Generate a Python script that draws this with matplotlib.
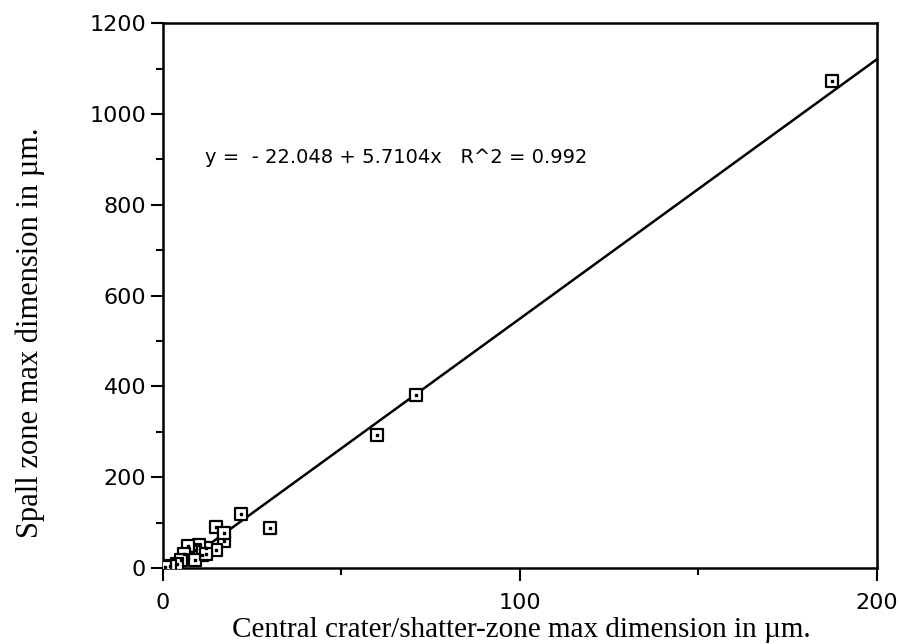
import matplotlib
matplotlib.use("Agg")
import matplotlib.pyplot as plt
import numpy as np
from matplotlib.ticker import MultipleLocator

# crater size (x) vs spall zone size (y), um
crater = [187.5, 71, 60, 30, 22, 15, 17, 17, 15, 12, 11, 10, 9, 8, 7, 7, 6, 5, 4, 2, 0.5, 9, 12]
spall = [1072, 380, 292, 88, 120, 90, 60, 78, 40, 45, 28, 50, 40, 35, 48, 22, 30, 18, 8, 5, 2, 18, 30]

intercept = -22.048
slope = 5.7104
r2 = 0.992

fig = plt.figure(figsize=(9, 6.44), dpi=100)
ax = fig.add_axes([0.181, 0.118, 0.793, 0.846])

xs = np.array([0, 200])
ax.plot(xs, intercept + slope * xs, color="black", lw=1.8, zorder=2)
ax.scatter(crater, spall, marker="s", s=64, facecolor="white", edgecolor="black",
           linewidth=1.6, zorder=3)
ax.scatter(crater, spall, marker="s", s=3, color="black", zorder=4)

ax.set_xlim(0, 200)
ax.set_ylim(0, 1200)
ax.xaxis.set_major_locator(MultipleLocator(100))
ax.xaxis.set_minor_locator(MultipleLocator(50))
ax.yaxis.set_major_locator(MultipleLocator(200))
ax.yaxis.set_minor_locator(MultipleLocator(100))
ax.tick_params(which="major", direction="out", length=9, width=1.5, labelsize=16)
ax.tick_params(which="minor", direction="out", length=5, width=1.5)
ax.tick_params(axis="y", pad=3)
ax.tick_params(axis="x", pad=9)
for s in ax.spines.values():
    s.set_linewidth(1.8)

ax.text(11.8, 905, f"y =  - {abs(intercept):.3f} + {slope:.4f}x   R^2 = {r2:.3f}",
        fontsize=14, va="center")

ax.set_xlabel("Central crater/shatter-zone max dimension in µm.",
              family="Liberation Serif", fontsize=21, va="baseline")
ax.xaxis.set_label_coords(0.502, -0.126)
ax.set_ylabel("Spall zone max dimension in µm.",
              family="Liberation Serif", fontsize=22)
ax.yaxis.set_label_coords(-0.165, 0.431)

fig.savefig("out.png", dpi=100)
